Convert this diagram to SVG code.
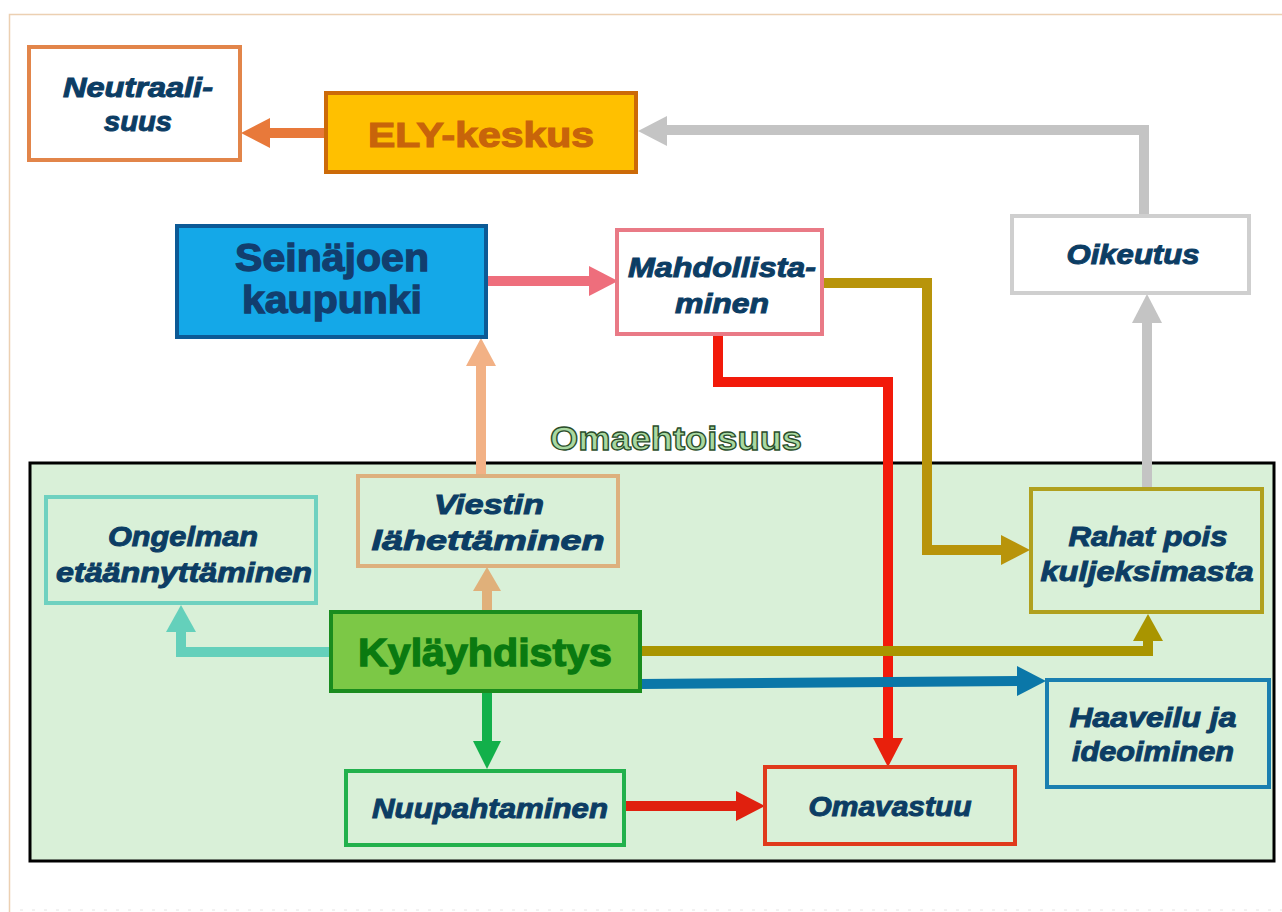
<svg xmlns="http://www.w3.org/2000/svg" width="1282" height="912" viewBox="0 0 1282 912">
<style>
.bx{fill:#fff;stroke-width:4}
.it{font-family:"Liberation Sans",Arial,sans-serif;font-weight:bold;font-style:italic;font-size:28px;fill:#0c3d64;stroke:#0c3d64;stroke-width:1;text-anchor:middle}
.bd{font-family:"Liberation Sans",Arial,sans-serif;font-weight:bold;text-anchor:middle}
.ln{fill:none;stroke-width:10;stroke-linejoin:miter}
</style>
<rect x="9.5" y="14.5" width="1290" height="920" fill="#fff" stroke="#ecd0b2" stroke-width="1.5"/>
<line x1="20" y1="910" x2="1282" y2="910" stroke="#e4e4e4" stroke-width="1" stroke-dasharray="3 9"/>

<g id="omaehtoisuus">
<rect x="30" y="463" width="1244" height="398" fill="#d9f0d8" stroke="#000" stroke-width="3"/>
<text class="bd" x="676" y="450" font-size="33" fill="#a9d9a1" stroke="#2b4e2b" stroke-width="1.3" textLength="252" lengthAdjust="spacingAndGlyphs">Omaehtoisuus</text>
</g>

<g id="connectors">
<path class="ln" stroke="#e8793a" d="M326,133 L268,133"/>
<polygon fill="#e8793a" points="241,133 270,118 270,148"/>
<path class="ln" stroke="#c4c4c4" stroke-width="9" d="M1144,216 L1144,130 L666,130"/>
<polygon fill="#c4c4c4" points="638,131 667,116 667,146"/>
<path class="ln" stroke="#c4c4c4" stroke-width="9" d="M1147,488 L1147,320"/>
<polygon fill="#c4c4c4" points="1147,294 1162,323 1132,323"/>
<path class="ln" stroke="#ee6e7c" d="M486,281 L592,281"/>
<polygon fill="#ee6e7c" points="618,281 589,266 589,296"/>
<path class="ln" stroke="#b8940a" d="M822,283 L927,283 L927,550 L1004,550"/>
<polygon fill="#b8940a" points="1030,550 1001,535 1001,565"/>
<path class="ln" stroke="#f21a0a" d="M718,334 L718,382 L888,382 L888,742"/>
<polygon fill="#e8200c" points="888,767 873,738 903,738"/>
<path class="ln" stroke="#f2b185" d="M481,476 L481,362"/>
<polygon fill="#f2b185" points="481,338 496,366 466,366"/>
<path class="ln" stroke="#e0b07a" d="M487,612 L487,588"/>
<polygon fill="#e0b07a" points="487,567 501,591 473,591"/>
<path class="ln" stroke="#64d0bb" d="M331,652 L181,652 L181,628"/>
<polygon fill="#64d0bb" points="181,605 196,632 166,632"/>
<path class="ln" stroke="#a99500" d="M640,651 L1148,651 L1148,638"/>
<polygon fill="#a99500" points="1148,614 1163,641 1133,641"/>
<path class="ln" stroke="#0b77a8" d="M640,684 L1020,681"/>
<polygon fill="#0b77a8" points="1046,681 1017,666 1017,696"/>
<path class="ln" stroke="#12b04a" stroke-width="8" d="M487,691 L487,744"/>
<polygon fill="#12b04a" points="487,769 473,741 501,741"/>
<path class="ln" stroke="#e0200e" d="M626,806 L740,806"/>
<polygon fill="#e0200e" points="765,806 736,791 736,821"/>
</g>

<g id="neutraalisuus">
<rect class="bx" x="29" y="47" width="211" height="113" stroke="#e2854a"/>
<text class="it" x="138" y="97" textLength="150" lengthAdjust="spacingAndGlyphs">Neutraali-</text>
<text class="it" x="138" y="131" textLength="68" lengthAdjust="spacingAndGlyphs">suus</text>
</g>
<g id="ely">
<rect x="326" y="93" width="310" height="79" fill="#ffc000" stroke="#cc6a08" stroke-width="4"/>
<text class="bd" x="481" y="147" font-size="35" fill="#c8640a" stroke="#c8640a" stroke-width="1.2" textLength="226" lengthAdjust="spacingAndGlyphs">ELY-keskus</text>
</g>
<g id="seinajoki">
<rect x="177" y="226" width="309" height="111" fill="#14a8e8" stroke="#0c5a96" stroke-width="4"/>
<text class="bd" x="332" y="271" font-size="39" fill="#123e6e" stroke="#123e6e" stroke-width="1.3" textLength="194" lengthAdjust="spacingAndGlyphs">Seinäjoen</text>
<text class="bd" x="332" y="313" font-size="39" fill="#123e6e" stroke="#123e6e" stroke-width="1.3" textLength="180" lengthAdjust="spacingAndGlyphs">kaupunki</text>
</g>
<g id="mahdollistaminen">
<rect class="bx" x="617" y="230" width="205" height="104" stroke="#e97a86"/>
<text class="it" x="722" y="277" textLength="188" lengthAdjust="spacingAndGlyphs">Mahdollista-</text>
<text class="it" x="722" y="313" textLength="94" lengthAdjust="spacingAndGlyphs">minen</text>
</g>
<g id="oikeutus">
<rect class="bx" x="1012" y="216" width="237" height="77" stroke="#cfcfcf"/>
<text class="it" x="1133" y="264" textLength="133" lengthAdjust="spacingAndGlyphs">Oikeutus</text>
</g>
<g id="viestin">
<rect x="358" y="476" width="260" height="90" fill="none" stroke="#ddb07e" stroke-width="4"/>
<text class="it" x="489" y="514" textLength="110" lengthAdjust="spacingAndGlyphs">Viestin</text>
<text class="it" x="488" y="550" textLength="233" lengthAdjust="spacingAndGlyphs">lähettäminen</text>
</g>
<g id="ongelman">
<rect x="46" y="497" width="270" height="106" fill="none" stroke="#6fd1c0" stroke-width="4"/>
<text class="it" x="183" y="546" textLength="150" lengthAdjust="spacingAndGlyphs">Ongelman</text>
<text class="it" x="184" y="582" textLength="256" lengthAdjust="spacingAndGlyphs">etäännyttäminen</text>
</g>
<g id="kylayhdistys">
<rect x="331" y="612" width="309" height="79" fill="#7cc846" stroke="#1a8c1e" stroke-width="4"/>
<text class="bd" x="485" y="666" font-size="39" fill="#0a7a10" stroke="#0a7a10" stroke-width="1.3" textLength="254" lengthAdjust="spacingAndGlyphs">Kyläyhdistys</text>
</g>
<g id="rahat">
<rect x="1031" y="489" width="231" height="123" fill="none" stroke="#b0a01e" stroke-width="4"/>
<text class="it" x="1148" y="546" textLength="159" lengthAdjust="spacingAndGlyphs">Rahat pois</text>
<text class="it" x="1147" y="581" textLength="213" lengthAdjust="spacingAndGlyphs">kuljeksimasta</text>
</g>
<g id="haaveilu">
<rect x="1047" y="680" width="222" height="107" fill="none" stroke="#1a7fb0" stroke-width="4"/>
<text class="it" x="1153" y="727" textLength="167" lengthAdjust="spacingAndGlyphs">Haaveilu ja</text>
<text class="it" x="1153" y="761" textLength="162" lengthAdjust="spacingAndGlyphs">ideoiminen</text>
</g>
<g id="nuupahtaminen">
<rect x="346" y="771" width="278" height="74" fill="none" stroke="#22b14c" stroke-width="4"/>
<text class="it" x="490" y="818" textLength="236" lengthAdjust="spacingAndGlyphs">Nuupahtaminen</text>
</g>
<g id="omavastuu">
<rect x="765" y="767" width="250" height="77" fill="none" stroke="#e03a1c" stroke-width="4"/>
<text class="it" x="890" y="816" textLength="163" lengthAdjust="spacingAndGlyphs">Omavastuu</text>
</g>
</svg>
